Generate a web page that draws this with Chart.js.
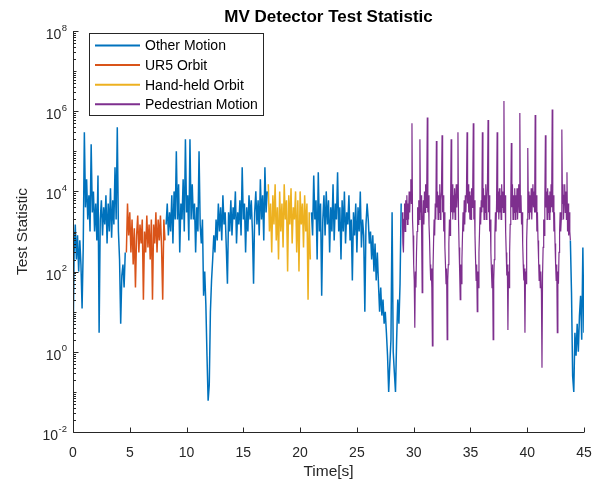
<!DOCTYPE html>
<html>
<head>
<meta charset="utf-8">
<script src="https://cdn.jsdelivr.net/npm/chart.js@4"></script>
<style>
  html, body { margin: 0; padding: 0; background: #fff; }
  #wrap { width: 594px; height: 483px; }
</style>
</head>
<body>
<div id="wrap"><canvas id="mvChart" width="594" height="483"></canvas></div>
<script>
// Sample spacing used when reading the curve off the figure, seconds
const coarseDt = 0.1;
const fineDt = 0.05;   // pedestrian part is busier, read at twice the rate

// Segment start times (s)
const otherStartA = 0.0;
const ur5Start = 4.7;
const otherStartB = 8.2;
const handHeldStart = 17.2;
const otherStartC = 21.0;
const pedestrianStart = 29.0;
const otherStartD = 43.8;

// Test statistic values, one per sample
const otherMotionA = [
  1, 300, 1500, 200, 800, 100, 600, 150, 12, 400,
  3e5, 4e3, 2e4, 2e3, 8e3, 1e3, 1.5e5, 3e3, 1e4, 1e3,
  5e3, 600, 2.5e4, 3, 2e3, 6e3, 800, 4e3, 1500, 8e3,
  500, 5e3, 1e3, 1.2e4, 700, 6e3, 1500, 4e4, 2e3, 4e5,
  1e3, 200, 5, 80, 150, 40, 300
];

const ur5Orbit = [
  300, 5e3, 800, 3e3, 300, 2e3, 150, 1200, 40, 800,
  2500, 300, 1500, 500, 2e3, 20, 1e3, 300, 2500, 400,
  1500, 200, 2e3, 20, 1500, 500, 3e3, 300, 2e3, 600,
  2500, 400, 20, 2e3, 600
];

const otherMotionB = [
  1500, 5e3, 800, 3e3, 1e3, 8e3, 500, 1e4, 2e3, 1e5,
  2e3, 1.5e4, 300, 5e3, 2e3, 2e4, 1e3, 2e5, 3e3, 8e3,
  600, 2e5, 2e3, 1.5e4, 2e3, 5e3, 300, 4e3, 1e3, 1e5,
  1500, 500, 2e3, 25, 100, 15, 0.8, 0.06, 0.15, 10,
  60, 200, 800, 300, 2e3, 600, 5e3, 1e3, 4e3, 600,
  8e3, 1500, 3e3, 400, 50, 3e3, 1e3, 6e3, 800, 4e3,
  2e3, 1e4, 500, 3e3, 1500, 6e3, 800, 4e4, 2e3, 5e3,
  300, 4e3, 1e3, 8e3, 2e3, 6e3, 1e3, 50, 3e3, 1e4,
  1500, 6e3, 800, 2e4, 2e3, 8e3, 600, 4e4, 3e3, 1e4
];

const handHeldOrbit = [
  1.5e4, 1e3, 5e3, 300, 8e3, 1500, 1.5e4, 600, 4e3, 200,
  1e4, 1e3, 5e3, 400, 1.5e4, 2e3, 6e3, 100, 8e3, 1500,
  1.2e4, 500, 4e3, 2e3, 1e4, 300, 6e3, 100, 1e4, 1500,
  5e3, 400, 8e3, 1e3, 5e3, 20, 3e3, 200
];

const otherMotionC = [
  3e3, 800, 2.5e4, 2e3, 6e3, 200, 3e4, 1e3, 5e3, 25,
  2e3, 8e3, 800, 1e4, 1500, 6e3, 300, 4e3, 1e3, 1.5e4,
  600, 5e3, 2e3, 3e4, 1e3, 4e3, 200, 6e3, 1e3, 1e4,
  500, 3e3, 1500, 8e3, 600, 2e3, 60, 3e3, 800, 5e3,
  300, 4e3, 1e3, 1e4, 400, 2e3, 800, 10, 1500, 5e3,
  2e3, 500, 1e3, 200, 800, 100, 500, 60, 300, 50,
  10, 40, 8, 20, 5, 10, 3, 0.8, 0.1, 0.5,
  2, 3e3, 1, 0.3, 0.1, 2, 20, 5, 50, 5e3
];

// 29.00 s to 43.80 s, one row per second
const pedestrianMotion = [
  3e3, 500, 300, 2e3, 5e3, 1e3, 6e3, 2e3, 8e3, 1.5e3, 5e3, 2e3, 1e4, 3e3, 8e3, 2e4, 5e3, 5e5, 2e3, 800,
  150, 60, 4, 100, 40, 300, 1e3, 4e3, 1.5e3, 6e3, 2e3, 2e5, 3e3, 8e3, 1e3, 30, 2e3, 6e3, 1.5e3, 1e4,
  3e3, 1.5e4, 4e3, 1e4, 7e5, 3e3, 8e3, 1.5e3, 600, 150, 60, 120, 40, 1.4, 100, 500, 2e3, 800, 5e3, 2e3,
  1.8e5, 4e3, 1e4, 2e3, 8e3, 3e3, 1.5e4, 2e3, 6e3, 1e4, 2.5e5, 3e3, 8e3, 1e3, 3e3, 400, 150, 50, 120, 2,
  60, 150, 500, 2e3, 800, 5e3, 2e5, 3e3, 1.5e4, 2e3, 8e3, 3e3, 1.2e4, 2e3, 6e3, 1.5e4, 4e3, 1e4, 3e5, 2e3,
  400, 100, 20, 150, 50, 200, 800, 3e3, 1e3, 6e3, 1.5e3, 8e3, 3e3, 1e4, 3e5, 5e3, 1.5e4, 3e3, 1e4, 2e3,
  8e3, 2e3, 1.2e4, 4e3, 1e4, 5e5, 2e3, 6e3, 800, 200, 60, 150, 10, 100, 40, 300, 1e3, 4e3, 1.5e3, 6e3,
  3e3, 3e5, 4e3, 1.2e4, 2e3, 8e3, 3e3, 1.5e4, 2e3, 6e3, 1.5e4, 6e5, 3e3, 8e3, 1e3, 2e3, 300, 100, 40, 150,
  2, 60, 200, 800, 3e3, 1e3, 5e3, 3e5, 3e3, 1e4, 2e3, 1.2e4, 3e3, 8e3, 2e3, 1.5e4, 4e3, 1e4, 3e3, 1.8e6,
  3e3, 8e3, 1e3, 300, 80, 150, 3.5, 100, 40, 300, 1.5e3, 5e3, 1.6e5, 4e3, 1.5e4, 2e3, 8e3, 3e3, 1.2e4, 2e3,
  8e3, 3e3, 1.2e4, 2e3, 6e3, 1.5e4, 3e3, 9e5, 3e3, 8e3, 1.5e3, 3e3, 500, 150, 60, 120, 3, 100, 50, 600,
  2e3, 1.2e5, 3e3, 1e4, 2e3, 8e3, 3e3, 1.2e4, 2e3, 6e3, 1.5e4, 4e3, 1e4, 3e3, 8e5, 3e3, 8e3, 1e3, 3e3, 600,
  200, 60, 150, 40, 100, 30, 0.4, 80, 400, 2e3, 800, 5e3, 2.5e5, 4e3, 1e4, 2e3, 1.2e4, 3e3, 8e3, 2e3,
  1e4, 3e3, 1.5e4, 4e3, 1.1e6, 3e3, 8e3, 1e3, 3e3, 500, 150, 60, 150, 3, 100, 50, 300, 1e3, 3e3, 1e3,
  2e3, 3.5e5, 5e3, 1.5e4, 2e3, 8e3, 1.5e4, 3e3, 1e4, 2e3, 3e4, 1e3, 5e3, 800, 3e3, 1e3, 600
];

const otherMotionD = [600, 30, 0.25, 0.1, 3, 0.8, 5, 1, 8, 25, 2, 400, 3];

const seriesLabels = ['Other Motion', 'UR5 Orbit', 'Hand-held Orbit', 'Pedestrian Motion'];
const seriesColors = ['#0072BD', '#D95319', '#EDB120', '#7E2F8E'];

const xTicks = [0, 5, 10, 15, 20, 25, 30, 35, 40, 45];
const yLabelExps = [-2, 0, 2, 4, 6, 8];

const axisColor = '#262626';
const fontFam = '"Liberation Sans", Arial, Helvetica, sans-serif';

// turn a segment into {x,y} points on the time axis
function toPoints(start, dt, vals) {
  return vals.map((v, i) => ({ x: +(start + i * dt).toFixed(3), y: v }));
}

// "Other Motion" is one series broken by gaps where the other labels take over
const gap = t => ({ x: t, y: null });
const otherPoints = [].concat(
  toPoints(otherStartA, coarseDt, otherMotionA), [gap(4.65)],
  toPoints(otherStartB, coarseDt, otherMotionB), [gap(17.15)],
  toPoints(otherStartC, coarseDt, otherMotionC), [gap(28.95)],
  toPoints(otherStartD, coarseDt, otherMotionD)
);

// axes, ticks, tick labels, legend and title in MATLAB style
const matlabLook = {
  id: 'matlabLook',
  afterDraw(chart) {
    const { ctx, chartArea: a, scales: { x, y } } = chart;
    ctx.save();
    ctx.strokeStyle = axisColor;
    ctx.lineWidth = 1;

    const left = Math.round(a.left) + 0.5;
    const bottom = Math.round(a.bottom) + 0.5;
    ctx.beginPath();
    ctx.moveTo(left, a.top);
    ctx.lineTo(left, bottom);
    ctx.lineTo(a.right, bottom);

    // x ticks point inward
    xTicks.forEach(v => {
      const px = Math.round(x.getPixelForValue(v)) + 0.5;
      ctx.moveTo(px, bottom);
      ctx.lineTo(px, bottom - 5);
    });

    // y ticks: majors every 2 decades, minors in between
    for (let k = -2; k <= 8; k++) {
      const py = Math.round(y.getPixelForValue(Math.pow(10, k))) + 0.5;
      const len = (k % 2 === 0) ? 5 : 3;
      ctx.moveTo(left, py);
      ctx.lineTo(left + len, py);
      if (k < 8) {
        for (let m = 2; m <= 9; m++) {
          const pm = Math.round(y.getPixelForValue(m * Math.pow(10, k))) + 0.5;
          ctx.moveTo(left, pm);
          ctx.lineTo(left + 2.5, pm);
        }
      }
    }
    ctx.stroke();

    ctx.fillStyle = axisColor;
    ctx.textBaseline = 'alphabetic';

    // x tick labels
    ctx.font = `14px ${fontFam}`;
    ctx.textAlign = 'center';
    xTicks.forEach(v => {
      ctx.fillText(String(v), x.getPixelForValue(v), a.bottom + 25);
    });

    // y tick labels as 10 with a raised exponent
    ctx.textAlign = 'right';
    yLabelExps.forEach(e => {
      const py = y.getPixelForValue(Math.pow(10, e));
      const sup = String(e);
      ctx.font = `9.5px ${fontFam}`;
      const sw = ctx.measureText(sup).width;
      ctx.fillText(sup, a.left - 6, py - 0.5);
      ctx.font = `14px ${fontFam}`;
      ctx.fillText('10', a.left - 6 - sw - 0.5, py + 8);
    });

    // legend box
    const lx = 89.5, ly = 33.5, lw = 174, lh = 82;
    ctx.fillStyle = '#fff';
    ctx.fillRect(lx, ly, lw, lh);
    ctx.strokeStyle = axisColor;
    ctx.strokeRect(lx, ly, lw, lh);
    ctx.font = `14px ${fontFam}`;
    ctx.textAlign = 'left';
    ctx.textBaseline = 'middle';
    seriesLabels.forEach((lab, i) => {
      const ry = 45.5 + i * 19.6;
      ctx.strokeStyle = seriesColors[i];
      ctx.lineWidth = 2;
      ctx.beginPath();
      ctx.moveTo(95, ry);
      ctx.lineTo(140, ry);
      ctx.stroke();
      ctx.fillStyle = '#000';
      ctx.fillText(lab, 145, ry + 1);
    });

    // title centred over the axes
    ctx.font = `bold 17px ${fontFam}`;
    ctx.textAlign = 'center';
    ctx.textBaseline = 'alphabetic';
    ctx.fillStyle = '#000';
    ctx.fillText('MV Detector Test Statistic', (a.left + a.right) / 2, 21.5);
    ctx.restore();
  }
};

const lineDefaults = { borderWidth: 1.5, pointRadius: 0, tension: 0, fill: false, spanGaps: false };

new Chart(document.getElementById('mvChart'), {
  type: 'line',
  data: {
    datasets: [
      { label: seriesLabels[0], data: otherPoints, borderColor: seriesColors[0], ...lineDefaults },
      { label: seriesLabels[1], data: toPoints(ur5Start, coarseDt, ur5Orbit), borderColor: seriesColors[1], ...lineDefaults },
      { label: seriesLabels[2], data: toPoints(handHeldStart, coarseDt, handHeldOrbit), borderColor: seriesColors[2], ...lineDefaults },
      { label: seriesLabels[3], data: toPoints(pedestrianStart, fineDt, pedestrianMotion), borderColor: seriesColors[3], ...lineDefaults, borderWidth: 1.2 }
    ]
  },
  options: {
    responsive: false,
    animation: false,
    layout: { padding: { top: 31, right: 10, bottom: 0, left: 9 } },
    plugins: {
      legend: { display: false },
      title: { display: false },
      tooltip: { enabled: false }
    },
    scales: {
      x: {
        type: 'linear',
        min: 0,
        max: 45,
        afterFit: s => { s.height = 51; },
        ticks: { display: false },
        grid: { display: false, drawTicks: false },
        border: { display: false },
        title: { display: true, text: 'Time[s]', color: axisColor, font: { size: 15.5, family: fontFam }, padding: { top: 0, bottom: 2 } }
      },
      y: {
        type: 'logarithmic',
        min: 0.01,
        max: 1e8,
        afterFit: s => { s.width = 64; },
        ticks: { display: false },
        grid: { display: false, drawTicks: false },
        border: { display: false },
        title: { display: true, text: 'Test Statistic', color: axisColor, font: { size: 15.5, family: fontFam }, padding: { top: 4, bottom: 0 } }
      }
    }
  },
  plugins: [matlabLook]
});
</script>
</body>
</html>
